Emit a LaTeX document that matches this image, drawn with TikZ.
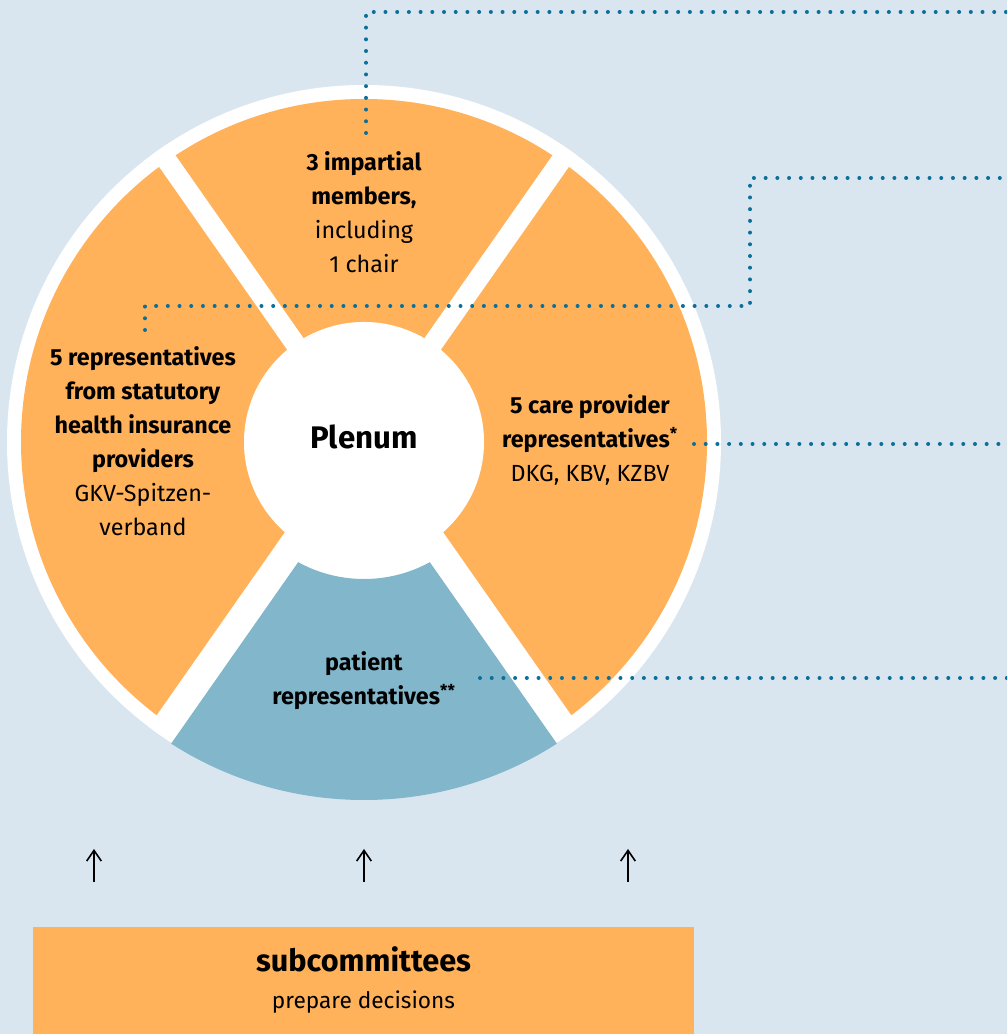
\documentclass[tikz,border=0pt]{standalone}
\usepackage{fontspec}
\setmainfont{Fira Sans}
\usetikzlibrary{arrows.meta}
\definecolor{bg}{HTML}{DAE6EF}
\definecolor{org}{HTML}{FFB25A}
\definecolor{pblue}{HTML}{82B6CB}
\definecolor{dotc}{HTML}{0B6F9C}
\tikzset{
  dotline/.style={dotc, line width=3pt, line cap=round, dash pattern=on 0pt off 8.78pt},
  segtext/.style={align=center, font=\fontsize{17.5}{25.5}\selectfont, inner sep=0pt},
  uparrow/.style={line width=1.2pt, -{Straight Barb[length=8pt,width=11pt]}},
}
\begin{document}
\begin{tikzpicture}[x=0.75pt,y=0.75pt]
\useasboundingbox (0,0) rectangle (1007,1034);
\clip (0,0) rectangle (1007,1034);
\fill[bg] (0,0) rectangle (1007,1034);
\begin{scope}[shift={(364,592)}]
  \fill[white] (0,0) circle (357);
  \begin{scope}
    \clip (0,0) circle (357);
    \fill[org] (0,0) circle (343);
    \draw[white, line width=15pt] (0,0) -- (55:400);
    \draw[white, line width=15pt] (0,0) -- (125:400);
    \fill[white] (0,22.7) -- (-372.8,-509.7) -- (372.8,-509.7) -- cycle;
  \end{scope}
  \begin{scope}
    \clip (0,-26.15) -- (-372.8,-558.6) -- (372.8,-558.6) -- cycle;
    \fill[pblue, even odd rule] (0,0) circle (358) (0,0) circle (137);
  \end{scope}
  \node[circle, fill=white, minimum size=180pt, inner sep=0pt] (plenum) at (0,0) {};
  \node[font=\fontsize{23.4}{26}\selectfont\bfseries, inner sep=0pt] (plenumtext) at (0,5) {Plenum};
  \node[segtext] (top) at (0,230) {\textbf{3 impartial}\\\textbf{members,}\\including\\1 chair};
  \node[segtext] (left) at (-221,1) {\textbf{5 representatives}\\\textbf{from statutory}\\\textbf{health insurance}\\\textbf{providers}\\GKV-Spitzen-\\verband};
  \node[segtext] (right) at (226,2) {\textbf{5 care provider}\\\textbf{representatives\textsuperscript{*}}\\DKG, KBV, KZBV};
  \node[segtext] (bottom) at (0,-239) {\textbf{patient}\\\textbf{representatives\textsuperscript{**}}};
\end{scope}
% subcommittees box
\node[fill=org, minimum width=495.75pt, minimum height=100pt, anchor=north, inner sep=0pt] (sub) at (363.5,107) {};
\node[font=\fontsize{23}{25}\selectfont\bfseries, inner sep=0pt] (subt) at (363.5,75) {subcommittees};
\node[font=\fontsize{17}{19}\selectfont, inner sep=0pt] (subd) at (363.5,32) {prepare decisions};
% arrows
\coordinate (a1s) at (94,152); \coordinate (a1e) at (94,185);
\coordinate (a2s) at (364,152); \coordinate (a2e) at (364,185);
\coordinate (a3s) at (628,152); \coordinate (a3e) at (628,185);
\draw[uparrow] (a1s) -- (a1e);
\draw[uparrow] (a2s) -- (a2e);
\draw[uparrow] (a3s) -- (a3e);
% dotted leaders
\coordinate (d1s) at (366,901); \coordinate (d1e) at (1012,1022);
\coordinate (d2s) at (145,704); \coordinate (d2m) at (750,728); \coordinate (d2e) at (1012,856);
\coordinate (d3s) at (694,590); \coordinate (d3e) at (1012,590);
\coordinate (d4s) at (480,356); \coordinate (d4e) at (1012,356);
\draw[dotline] (d1s) |- (d1e);
\draw[dotline] (d2s) |- (d2m) |- (d2e);
\draw[dotline] (d3s) -- (d3e);
\draw[dotline] (d4s) -- (d4e);
\end{tikzpicture}
\end{document}
